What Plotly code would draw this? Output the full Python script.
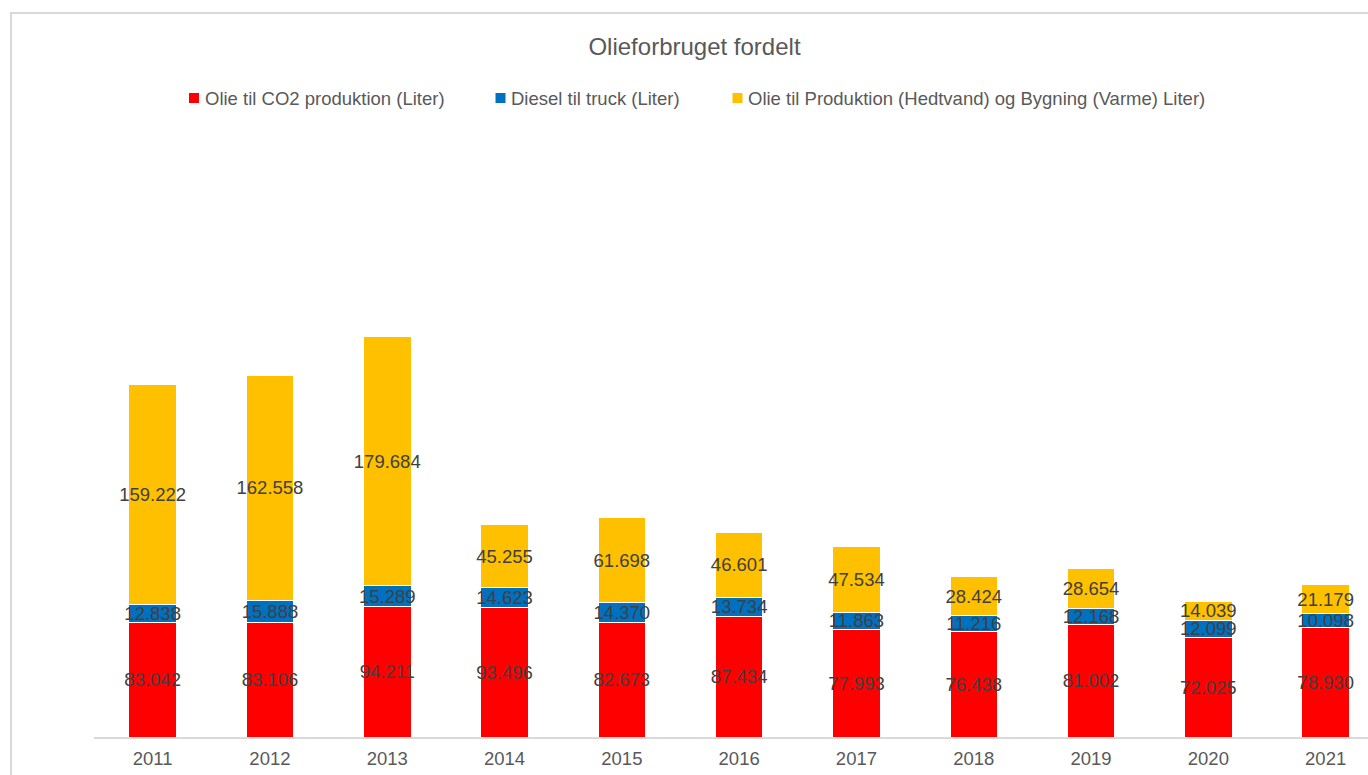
import plotly.graph_objects as go

years = ["2011", "2012", "2013", "2014", "2015", "2016", "2017", "2018", "2019", "2020", "2021"]
co2_oil = [83042, 83106, 94211, 93496, 82673, 87434, 77993, 76438, 81002, 72025, 78930]
truck_diesel = [12838, 15888, 15289, 14623, 14370, 13734, 11863, 11216, 12168, 12099, 10098]
heat_oil = [159222, 162558, 179684, 45255, 61698, 46601, 47534, 28424, 28654, 14039, 21179]

series_names = [
    "Olie til CO2 produktion (Liter)",
    "Diesel til truck (Liter)",
    "Olie til Produktion (Hedtvand) og Bygning (Varme) Liter)",
]
series_values = [co2_oil, truck_diesel, heat_oil]
series_colors = ["#FF0000", "#0070C0", "#FFC000"]

FONT = "Liberation Sans, Arial, sans-serif"
FS = 18.5

FIG_W, FIG_H = 1368, 775
L, R, T, B = 94, 1368, 120, 737
W, H = R - L, B - T
CAT_PX = 117.3  # pixel spacing between categories


def px(x):
    return (x - L) / W


def py(y):
    return (B - y) / H


fig = go.Figure()
for name, vals, col in zip(series_names, series_values, series_colors):
    fig.add_trace(go.Bar(
        x=years, y=vals, name=name,
        marker=dict(color=col, line=dict(color="#FFFFFF", width=1)),
        width=0.405,
        texttemplate="%{y:,.0f}",
        textposition="inside",
        insidetextanchor="middle",
        textangle=0,
        constraintext="none",
        textfont=dict(family=FONT, size=FS, color="#404040"),
        hoverinfo="x+y+name",
        showlegend=False,
    ))

# manual legend (square + text) to match the reference spacing
legend_square_x = [189, 495.5, 732.5]
legend_text_x = [203, 509, 746]
legend_y = 98
shapes = []
annotations = []
for sx, tx, name, col in zip(legend_square_x, legend_text_x, series_names, series_colors):
    shapes.append(dict(type="rect", xref="paper", yref="paper",
                       x0=px(sx), x1=px(sx + 10), y0=py(legend_y - 5), y1=py(legend_y + 5),
                       fillcolor=col, line=dict(width=0)))
    annotations.append(dict(text=name, xref="paper", yref="paper",
                            x=px(tx), y=py(legend_y), xanchor="left", yanchor="middle",
                            showarrow=False,
                            font=dict(family=FONT, size=FS, color="#595959")))

# outer chart-area border (left and top edges visible)
shapes.append(dict(type="line", xref="paper", yref="paper",
                   x0=px(11), x1=px(11), y0=py(12), y1=py(790),
                   line=dict(color="#D9D9D9", width=2)))
shapes.append(dict(type="line", xref="paper", yref="paper",
                   x0=px(10), x1=px(1390), y0=py(13), y1=py(13),
                   line=dict(color="#D9D9D9", width=2)))

fig.update_layout(
    width=FIG_W, height=FIG_H,
    barmode="stack",
    separators=",.",
    showlegend=False,
    paper_bgcolor="white", plot_bgcolor="white",
    margin=dict(l=L, r=0, t=T, b=FIG_H - B, autoexpand=False),
    font=dict(family=FONT, size=FS, color="#595959"),
    title=dict(
        text="Olieforbruget fordelt",
        font=dict(family=FONT, size=24, color="#595959"),
        xref="container", yref="container",
        x=694.5 / FIG_W, y=1 - 47 / FIG_H,
        xanchor="center", yanchor="middle",
    ),
    xaxis=dict(
        type="category",
        range=[-0.5, -0.5 + W / CAT_PX],
        showline=True, linecolor="#D9D9D9", linewidth=1.5,
        ticks="", showgrid=False, zeroline=False,
        ticklabelstandoff=4,
        tickfont=dict(family=FONT, size=FS, color="#595959"),
    ),
    yaxis=dict(
        range=[0, 445900],
        visible=False, showgrid=False, zeroline=False,
    ),
    shapes=shapes,
    annotations=annotations,
)

fig.write_html(
    "out.html",
    config={"displayModeBar": False},
    post_script="document.body.style.margin='0';document.body.style.overflow='hidden';",
)
